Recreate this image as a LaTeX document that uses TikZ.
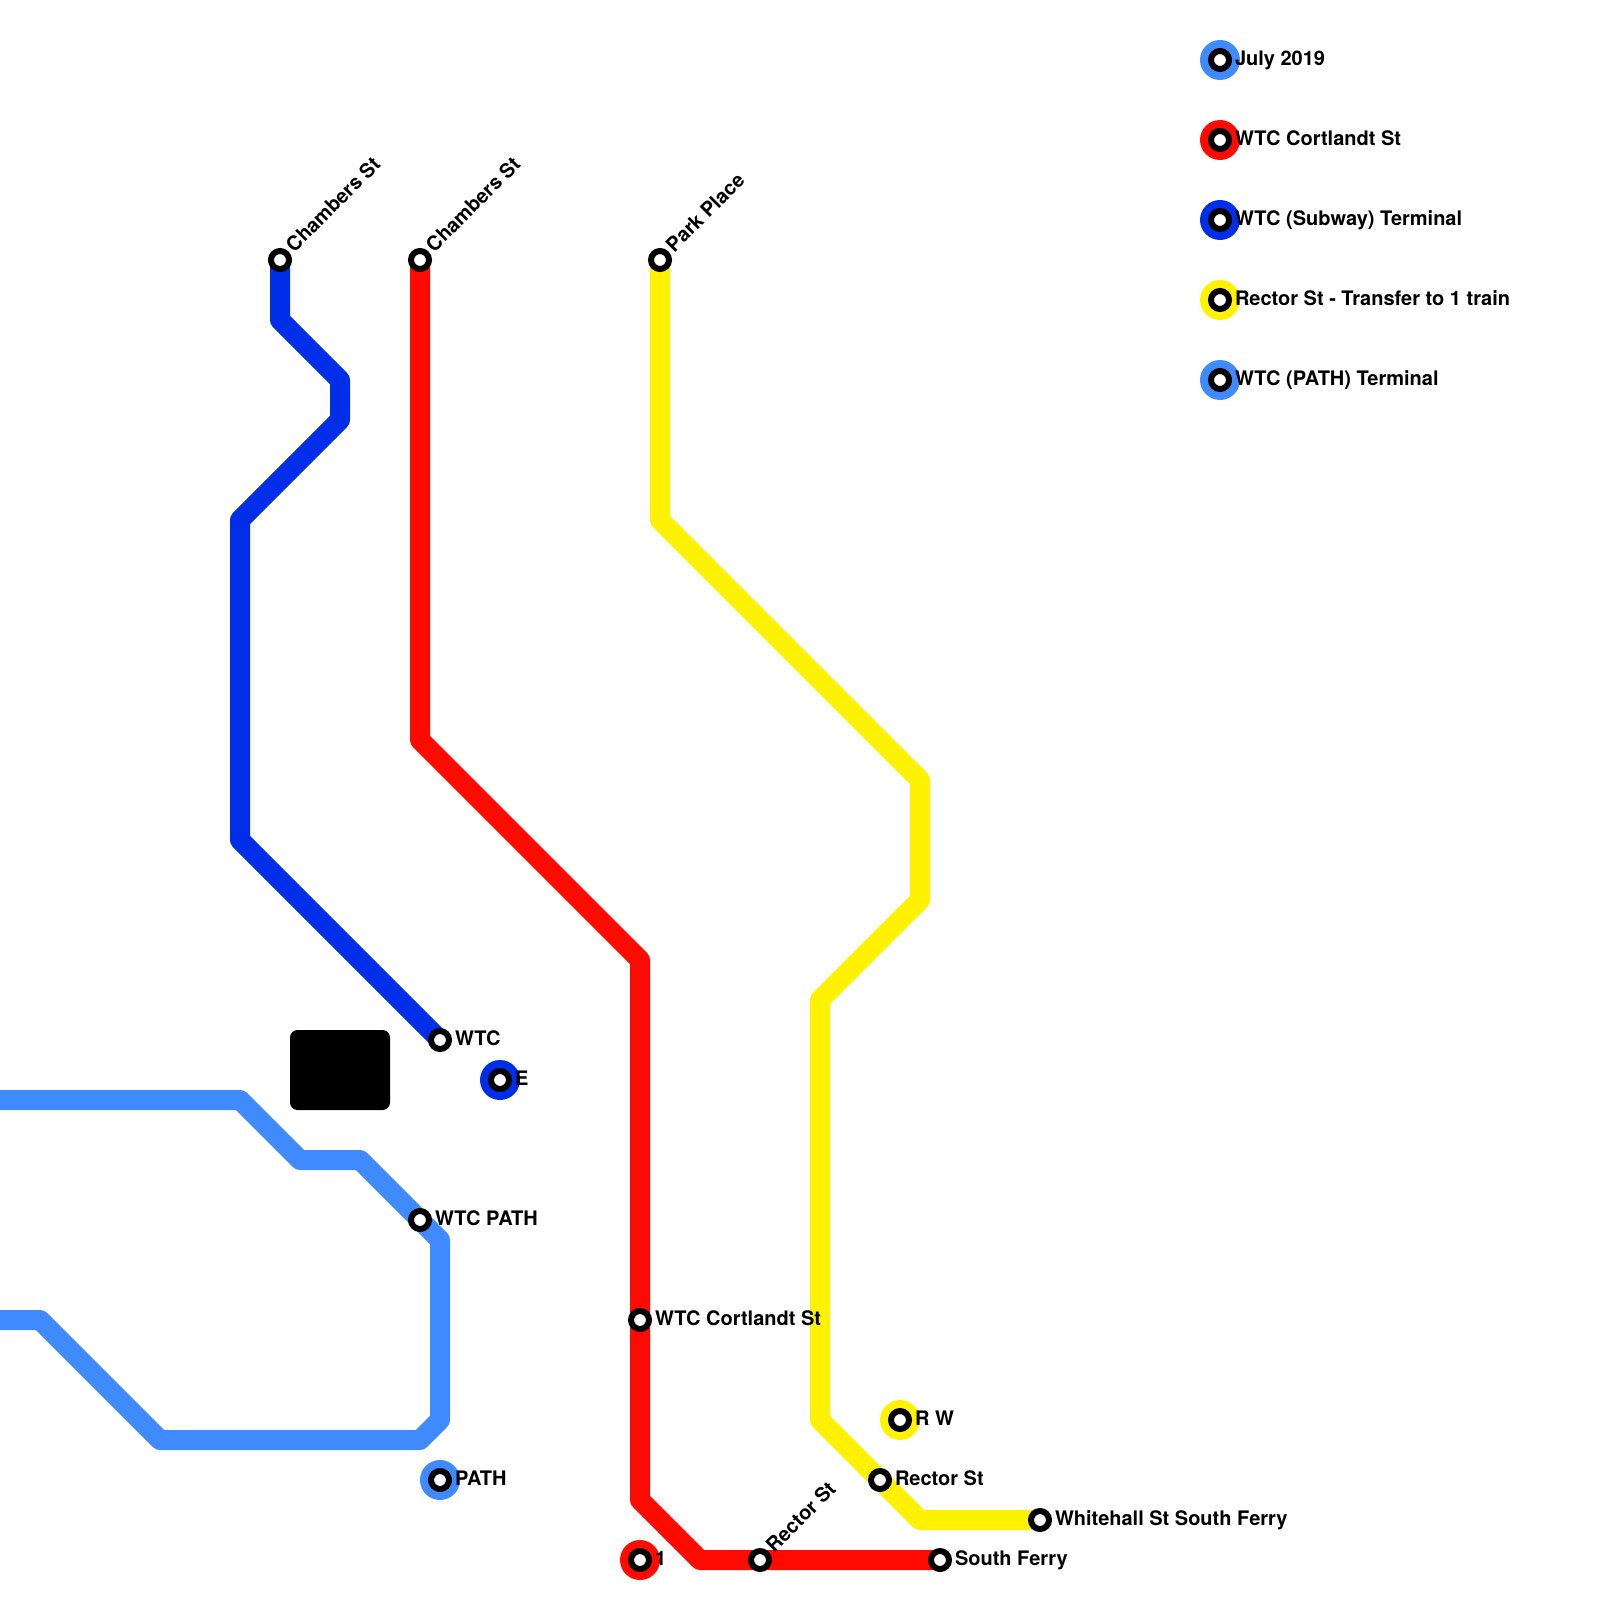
\documentclass[tikz,border=0pt]{standalone}
\usepackage{fontspec}
\setmainfont{TeX Gyre Heros}
\definecolor{cblue}{RGB}{0,45,232}
\definecolor{cpath}{RGB}{64,138,255}
\definecolor{cred}{RGB}{255,10,0}
\definecolor{cyel}{RGB}{255,242,0}
\tikzset{
  x=1pt,y=-1pt,
  metro/.style={line width=20pt,line join=round,line cap=butt},
  stn/.style={circle,draw=black,fill=white,line width=6pt,minimum size=18pt,inner sep=0pt,outer sep=0pt},
  lab/.style={anchor=base west,inner sep=0pt,outer sep=0pt,font=\fontsize{20}{24}\selectfont\bfseries,text=black},
  halo/.style={circle,fill=#1,draw=none,minimum size=40pt,inner sep=0pt,outer sep=0pt},
}
\newcommand{\stnlab}[4]{% name, x, y, text
  \node[stn] (#1) at (#2,#3) {};
  \node[lab] (#1t) at (#2+15,#3+5.4) {#4};
}
\newcommand{\stnrot}[4]{%
  \node[stn] (#1) at (#2,#3) {};
  \node[lab,rotate=45] (#1t) at (#2+14.4,#3-6.8) {#4};
}
\newcommand{\halostn}[5]{%
  \node[halo=#5] (#1h) at (#2,#3) {};
  \node[stn] (#1) at (#2,#3) {};
  \node[lab] (#1t) at (#2+15,#3+5.4) {#4};
}
\begin{document}
\begin{tikzpicture}
\useasboundingbox (0,0) rectangle (1600,1600);
% line end points
\coordinate (bA) at (280,260);
\coordinate (bB) at (440,1040);
\coordinate (rA) at (420,260);
\coordinate (rB) at (940,1560);
\coordinate (yA) at (660,260);
\coordinate (yB) at (1040,1520);
\coordinate (pA) at (0,1100);
\coordinate (pB) at (0,1320);
% lines
\draw[metro,cblue] (bA) -- (280,320) -- (340,380) -- (340,420) -- (240,520) -- (240,840) -- (bB);
\draw[metro,cred] (rA) -- (420,740) -- (640,960) -- (640,1500) -- (700,1560) -- (rB);
\draw[metro,cyel] (yA) -- (660,520) -- (920,780) -- (920,900) -- (820,1000) -- (820,1420) -- (920,1520) -- (yB);
\draw[metro,cpath] (pA) -- (240,1100) -- (300,1160) -- (360,1160) -- (440,1240) -- (440,1420) -- (420,1440) -- (160,1440) -- (40,1320) -- (pB);
% black block
\node[fill=black,rounded corners=7.5pt,minimum width=100pt,minimum height=80pt,inner sep=0pt,outer sep=0pt] (blk) at (340,1070) {};
% stations
\stnrot{s1}{280}{260}{Chambers St}
\stnrot{s2}{420}{260}{Chambers St}
\stnrot{s3}{660}{260}{Park Place}
\stnrot{s4}{760}{1560}{Rector St}
\stnlab{s5}{440}{1040}{WTC}
\stnlab{s6}{420}{1220}{WTC PATH}
\stnlab{s7}{640}{1320}{WTC Cortlandt St}
\stnlab{s8}{880}{1480}{Rector St}
\stnlab{s9}{1040}{1520}{Whitehall St South Ferry}
\stnlab{s10}{940}{1560}{South Ferry}
\halostn{i1}{500}{1080}{E}{cblue}
\halostn{i2}{440}{1480}{PATH}{cpath}
\halostn{i3}{640}{1560}{1}{cred}
\halostn{i4}{900}{1420}{R W}{cyel}
% legend
\halostn{k1}{1220}{60}{July 2019}{cpath}
\halostn{k2}{1220}{140}{WTC Cortlandt St}{cred}
\halostn{k3}{1220}{220}{WTC (Subway) Terminal}{cblue}
\halostn{k4}{1220}{300}{Rector St - Transfer to 1 train}{cyel}
\halostn{k5}{1220}{380}{WTC (PATH) Terminal}{cpath}
\end{tikzpicture}
\end{document}
